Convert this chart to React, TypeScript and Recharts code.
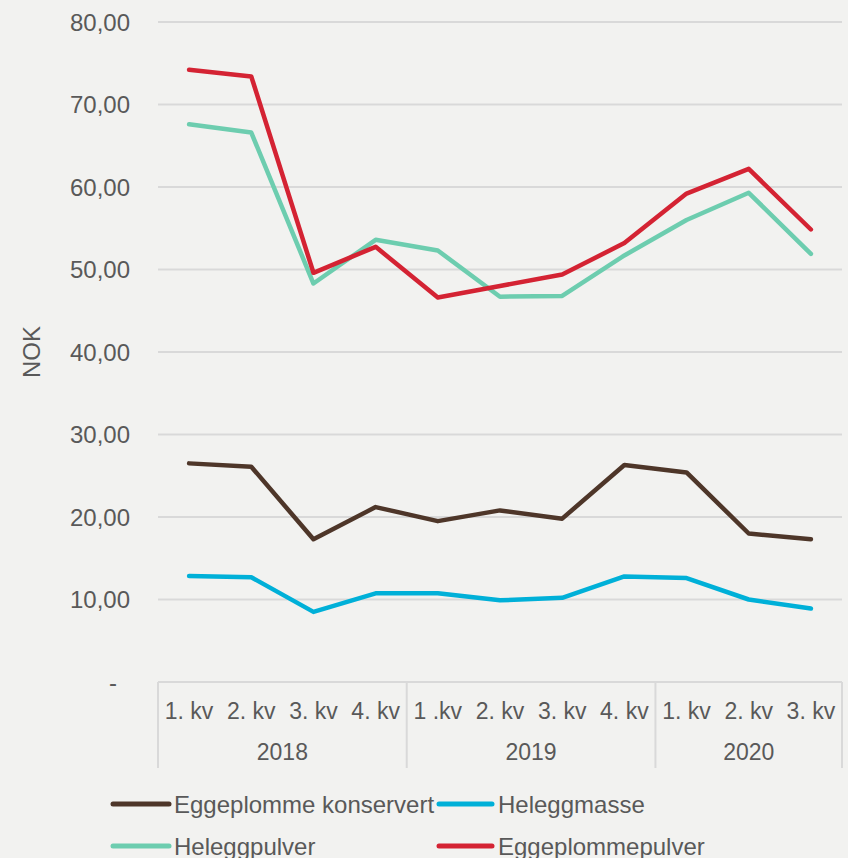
import React from 'react';
import { LineChart, Line, XAxis, YAxis, CartesianGrid, Legend, Label } from 'recharts';

const quarters = ['1. kv', '2. kv', '3. kv', '4. kv', '1 .kv', '2. kv', '3. kv', '4. kv', '1. kv', '2. kv', '3. kv'];
const years = ['2018', '2018', '2018', '2018', '2019', '2019', '2019', '2019', '2020', '2020', '2020'];
const eggeplommeKonservert = [26.5, 26.1, 17.3, 21.2, 19.5, 20.8, 19.8, 26.3, 25.4, 18.0, 17.3];
const heleggmasse = [12.85, 12.7, 8.5, 10.75, 10.75, 9.9, 10.2, 12.8, 12.6, 10.0, 8.9];
const heleggpulver = [67.6, 66.6, 48.3, 53.6, 52.3, 46.7, 46.8, 51.7, 56.0, 59.3, 51.9];
const eggeplommepulver = [74.2, 73.4, 49.6, 52.75, 46.6, 48.0, 49.4, 53.2, 59.2, 62.2, 54.85];
const yTicks = [0, 10, 20, 30, 40, 50, 60, 70, 80];

const seriesNames = ['Eggeplomme konservert', 'Heleggmasse', 'Heleggpulver', 'Eggeplommepulver'];
const seriesKeys = ['konservert', 'masse', 'pulver', 'plommepulver'];
const seriesColors = ['#4e3629', '#00b0d8', '#6dcdaf', '#d42333'];

const data = quarters.map((q, i) => ({
  key: `${years[i]}-${i}`,
  quarter: q,
  year: years[i],
  konservert: eggeplommeKonservert[i],
  masse: heleggmasse[i],
  pulver: heleggpulver[i],
  plommepulver: eggeplommepulver[i],
}));

const FONT = '"Liberation Sans", Arial, sans-serif';
const TEXT = '#595959';
const GRID = '#d9d9d9';

const fmt = (v: number) => (v === 0 ? '-' : v.toFixed(2).replace('.', ','));

const YTick = (props: any) => {
  const { y, payload } = props;
  const v = payload.value;
  return (
    <text
      x={v === 0 ? 117 : 130}
      y={y}
      textAnchor="end"
      dominantBaseline="central"
      fontFamily={FONT}
      fontSize={24}
      fill={TEXT}
    >
      {fmt(v)}
    </text>
  );
};

const XTick = (props: any) => {
  const { x, y, payload, index } = props;
  const half = payload.offset || 0;
  const i = index;
  const yr = years[i];
  const isStart = i === 0 || years[i - 1] !== yr;
  const isLast = i === years.length - 1;
  let count = 0;
  if (isStart) {
    for (let j = i; j < years.length && years[j] === yr; j++) count++;
  }
  return (
    <g>
      <text
        x={x}
        y={y + 29}
        textAnchor="middle"
        dominantBaseline="central"
        fontFamily={FONT}
        fontSize={23}
        fill={TEXT}
      >
        {quarters[i]}
      </text>
      {isStart && (
        <>
          <line x1={x - half} x2={x - half} y1={y} y2={y + 86} stroke={GRID} strokeWidth={2} />
          <text
            x={x + (count - 1) * half}
            y={y + 70}
            textAnchor="middle"
            dominantBaseline="central"
            fontFamily={FONT}
            fontSize={23}
            fill={TEXT}
          >
            {yr}
          </text>
        </>
      )}
      {isLast && <line x1={x + half} x2={x + half} y1={y} y2={y + 86} stroke={GRID} strokeWidth={2} />}
    </g>
  );
};

const LegendContent = () => {
  const items = [
    { x1: 113, x2: 169, tx: 174, y: 32 },
    { x1: 439, x2: 492, tx: 498, y: 32 },
    { x1: 113, x2: 169, tx: 174, y: 74 },
    { x1: 439, x2: 492, tx: 498, y: 74 },
  ];
  return (
    <svg width={848} height={86} style={{ display: 'block' }}>
      {items.map((it, i) => (
        <g key={i}>
          <line x1={it.x1} x2={it.x2} y1={it.y} y2={it.y} stroke={seriesColors[i]} strokeWidth={5} strokeLinecap="round" />
          <text x={it.tx} y={it.y} dominantBaseline="central" fontFamily={FONT} fontSize={24} fill={TEXT}>
            {seriesNames[i]}
          </text>
        </g>
      ))}
    </svg>
  );
};

const NokLabel = (props: any) => {
  const vb = props.viewBox || { x: 0, y: 22, width: 158, height: 660 };
  const cx = 31;
  const cy = vb.y + vb.height / 2;
  return (
    <text
      x={cx}
      y={cy}
      transform={`rotate(-90 ${cx} ${cy})`}
      textAnchor="middle"
      dominantBaseline="central"
      fontFamily={FONT}
      fontSize={24}
      fill={TEXT}
    >
      NOK
    </text>
  );
};

export default function App() {
  return (
    <div style={{ position: 'absolute', left: 0, top: 0, width: 848, height: 858, background: '#f2f2f0' }}>
      <LineChart width={848} height={858} data={data} margin={{ top: 22, right: 6, bottom: 0, left: 0 }}>
        <CartesianGrid vertical={false} stroke={GRID} strokeWidth={2} />
        <XAxis
          dataKey="key"
          type="category"
          scale="band"
          interval={0}
          height={90}
          tickSize={0}
          tickMargin={0}
          tickLine={false}
          axisLine={{ stroke: GRID, strokeWidth: 2 }}
          tick={<XTick />}
        />
        <YAxis
          domain={[0, 80]}
          ticks={yTicks}
          width={158}
          axisLine={false}
          tickLine={false}
          tick={<YTick />}
          interval={0}
        >
          <Label content={<NokLabel />} />
        </YAxis>
        <Legend verticalAlign="bottom" height={86} content={<LegendContent />} wrapperStyle={{ left: 0, width: 848 }} />
        {seriesKeys.map((k, i) => (
          <Line
            key={k}
            dataKey={k}
            name={seriesNames[i]}
            stroke={seriesColors[i]}
            strokeWidth={4.5}
            strokeLinejoin="round"
            strokeLinecap="round"
            dot={false}
            activeDot={false}
            isAnimationActive={false}
          />
        ))}
      </LineChart>
    </div>
  );
}
